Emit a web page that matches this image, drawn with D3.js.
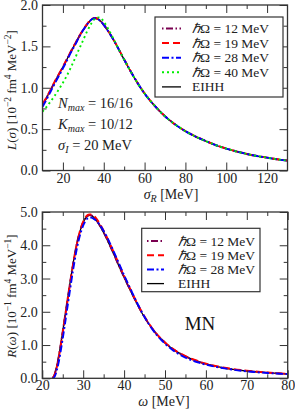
<!DOCTYPE html>
<html><head><meta charset="utf-8">
<script src="https://cdn.jsdelivr.net/npm/d3@7"></script>
<style>
body{margin:0;background:#fff;}
svg{display:block;}
svg text{font-family:"Liberation Serif","Times New Roman",Times,serif;}
</style></head>
<body><svg id="c" width="295" height="410"></svg>
<script>
// ---------- DATA: top panel (Lorentz transform) ----------
const sigmaR = [10,12,14,16,18,20,22,24,26,28,30,32,34,36,38,40,42,45,50,55,60,65,70,75,80,85,90,95,100,105,110,115,120,125,130];
const L_EIHH = [0.79,0.88,0.975,1.07,1.16,1.25,1.345,1.44,1.53,1.62,1.70,1.77,1.825,1.84,1.815,1.76,1.69,1.57,1.34,1.12,0.93,0.78,0.655,0.555,0.475,0.41,0.355,0.305,0.265,0.23,0.20,0.175,0.155,0.135,0.12];
const L_hw12 = [0.79,0.88,0.975,1.07,1.16,1.25,1.345,1.44,1.53,1.62,1.70,1.77,1.825,1.84,1.815,1.76,1.69,1.57,1.34,1.12,0.93,0.78,0.655,0.555,0.475,0.41,0.355,0.305,0.265,0.23,0.20,0.175,0.155,0.135,0.12];
const L_hw19 = [0.80,0.885,0.98,1.075,1.165,1.255,1.35,1.445,1.535,1.625,1.705,1.775,1.83,1.842,1.818,1.762,1.692,1.572,1.342,1.122,0.932,0.782,0.657,0.557,0.477,0.412,0.357,0.307,0.266,0.231,0.201,0.176,0.156,0.136,0.121];
const L_hw28 = [0.77,0.86,0.955,1.05,1.14,1.235,1.33,1.43,1.52,1.615,1.70,1.77,1.825,1.84,1.815,1.76,1.69,1.57,1.34,1.12,0.93,0.78,0.655,0.555,0.475,0.41,0.355,0.305,0.265,0.23,0.20,0.175,0.155,0.135,0.12];
const L_hw40 = [0.71,0.77,0.835,0.905,0.98,1.06,1.15,1.25,1.36,1.47,1.58,1.69,1.78,1.84,1.85,1.80,1.72,1.58,1.34,1.12,0.93,0.78,0.655,0.555,0.475,0.41,0.355,0.305,0.265,0.23,0.20,0.175,0.155,0.135,0.12];

// ---------- DATA: bottom panel (response function) ----------
const omega = [22.5,23,23.5,24,24.5,25,25.5,26,26.5,27,27.5,28,28.5,29,29.5,30,30.5,31,31.5,32,32.5,33,34,35,36,37,38,39,40,42,44,46,48,50,52,55,58,60,65,70,75,80];
const R_EIHH = [0,0.12,0.35,0.65,1.02,1.42,1.83,2.24,2.65,3.05,3.43,3.78,4.08,4.33,4.53,4.69,4.80,4.87,4.90,4.89,4.85,4.79,4.60,4.38,4.13,3.86,3.58,3.30,3.03,2.52,2.04,1.64,1.32,1.07,0.87,0.66,0.51,0.43,0.30,0.22,0.17,0.13];
const R_hw12 = [0,0.11,0.34,0.64,1.01,1.41,1.82,2.23,2.64,3.04,3.42,3.77,4.08,4.33,4.54,4.70,4.81,4.88,4.91,4.90,4.86,4.80,4.61,4.39,4.14,3.87,3.59,3.31,3.04,2.53,2.05,1.65,1.32,1.07,0.87,0.66,0.51,0.43,0.30,0.22,0.17,0.13];
const R_hw19 = [0,0.10,0.31,0.60,0.97,1.37,1.78,2.19,2.60,3.00,3.39,3.75,4.06,4.32,4.54,4.71,4.83,4.90,4.93,4.93,4.90,4.84,4.66,4.44,4.19,3.92,3.64,3.36,3.08,2.56,2.07,1.66,1.33,1.08,0.88,0.67,0.52,0.44,0.31,0.23,0.175,0.135];
const R_hw28 = [0,0.05,0.22,0.48,0.82,1.20,1.60,2.02,2.43,2.84,3.24,3.60,3.93,4.20,4.42,4.60,4.72,4.80,4.83,4.83,4.80,4.76,4.62,4.43,4.20,3.94,3.66,3.38,3.10,2.57,2.07,1.64,1.30,1.04,0.84,0.62,0.48,0.41,0.29,0.21,0.16,0.125];

const topXTicks = [20,40,60,80,100,120];
const topYTicks = [0,0.5,1,1.5,2];
const botXTicks = [20,30,40,50,60,70,80];
const botYTicks = [0,1,2,3,4,5];

// ---------- DRAWING ----------
const svg = d3.select("#c");
const frameCol = "#333";
const FONT = '"Liberation Serif","Times New Roman",Times,serif';

const styles = {
  hw12: {color:"#7a0050", dash:"1.5,2.5,7,2.5", label:"12"},
  hw19: {color:"#ff0000", dash:"7,4", label:"19"},
  hw28: {color:"#0000ff", dash:"7,2.5,2,2.5", label:"28"},
  hw40: {color:"#00ee00", dash:"2,3", label:"40"},
  EIHH: {color:"#000000", dash:null, label:"EIHH"}
};

function panel(o){
  const g = svg.append("g");
  const x = d3.scaleLinear().domain(o.xd).range([o.l, o.r]);
  const y = d3.scaleLinear().domain(o.yd).range([o.b, o.t]);
  const clipId = "clip"+o.id;
  svg.append("clipPath").attr("id",clipId).append("rect")
    .attr("x",o.l).attr("y",o.t).attr("width",o.r-o.l).attr("height",o.b-o.t);

  const line = d3.line().x(d=>x(d[0])).y(d=>y(d[1])).curve(d3.curveMonotoneX);
  const cg = g.append("g").attr("clip-path","url(#"+clipId+")");
  o.series.forEach(s=>{
    const st = styles[s.key];
    cg.append("path")
      .datum(o.xs.map((v,i)=>[v,s.vals[i]]))
      .attr("d",line).attr("fill","none")
      .attr("stroke",st.color)
      .attr("stroke-width", s.key==="EIHH"?1.3:1.9)
      .attr("stroke-dasharray",st.dash);
  });

  const tickLenMaj = 8, tickLenMin = 4;
  const bottom = d3.axisBottom(x).tickValues(o.xMinor).tickSize(-tickLenMin).tickFormat("");
  const bottomMaj = d3.axisBottom(x).tickValues(o.xTicks).tickSize(-tickLenMaj).tickPadding(o.xPad).tickFormat(d3.format("d"));
  const top = d3.axisTop(x).tickValues(o.xMinor).tickSize(-tickLenMin).tickFormat("");
  const topMaj = d3.axisTop(x).tickValues(o.xTicks).tickSize(-tickLenMaj).tickFormat("");
  const left = d3.axisLeft(y).tickValues(o.yMinor).tickSize(-tickLenMin).tickFormat("");
  const leftMaj = d3.axisLeft(y).tickValues(o.yTicks).tickSize(-tickLenMaj).tickPadding(4.5).tickFormat(d3.format(".1f"));
  const right = d3.axisRight(y).tickValues(o.yMinor).tickSize(-tickLenMin).tickFormat("");
  const rightMaj = d3.axisRight(y).tickValues(o.yTicks).tickSize(-tickLenMaj).tickFormat("");
  const ax = [[bottom,0,o.b],[bottomMaj,0,o.b],[top,0,o.t],[topMaj,0,o.t],[left,o.l,0],[leftMaj,o.l,0],[right,o.r,0],[rightMaj,o.r,0]];
  ax.forEach(([a,tx,ty])=>{
    const ag = g.append("g").attr("transform",`translate(${tx},${ty})`).call(a);
    ag.attr("font-family",FONT).attr("font-size",14);
    ag.select(".domain").remove();
    ag.selectAll(".tick line").attr("stroke",frameCol).attr("stroke-width",1);
    ag.selectAll(".tick text").attr("fill","#222");
  });
  g.append("rect").attr("x",o.l).attr("y",o.t).attr("width",o.r-o.l).attr("height",o.b-o.t)
    .attr("fill","none").attr("stroke",frameCol).attr("stroke-width",1.3);

  const lg = g.append("g");
  lg.append("rect").attr("x",o.leg.x).attr("y",o.leg.y).attr("width",o.leg.w).attr("height",o.leg.h)
    .attr("fill","#fff").attr("stroke",frameCol).attr("stroke-width",1.2);
  o.series.slice().sort((a,b)=>o.legOrder.indexOf(a.key)-o.legOrder.indexOf(b.key)).forEach((s,i)=>{
    const st = styles[s.key];
    const yy = o.leg.y0 + i*o.leg.dy;
    lg.append("line").attr("x1",o.leg.sx1).attr("x2",o.leg.sx2).attr("y1",yy).attr("y2",yy)
      .attr("stroke",st.color).attr("stroke-width",s.key==="EIHH"?1.3:2).attr("stroke-dasharray",st.dash);
    const t = lg.append("text").attr("x",o.leg.tx).attr("y",yy+4.5).attr("font-size",13.5).attr("fill","#222");
    if(s.key==="EIHH"){ t.text("EIHH"); }
    else {
      t.append("tspan").attr("font-style","italic").text("ℏ");
      t.append("tspan").text("Ω = "+st.label+" MeV");
    }
  });
  return {x,y,g};
}

panel({
  id:1, l:42.5, r:287.5, t:5, b:170.5, xd:[10,130], yd:[0,2],
  xs:sigmaR,
  series:[{key:"EIHH",vals:L_EIHH},{key:"hw12",vals:L_hw12},{key:"hw19",vals:L_hw19},{key:"hw28",vals:L_hw28},{key:"hw40",vals:L_hw40}],
  legOrder:["hw12","hw19","hw28","hw40","EIHH"],
  xTicks:topXTicks, xMinor:[30,50,70,90,110],
  yTicks:topYTicks, yMinor:[0.25,0.75,1.25,1.75], xPad:3,
  leg:{x:155,y:17,w:128,h:80,y0:28.5,dy:14.6,sx1:162,sx2:181,tx:192}
});

panel({
  id:2, l:42.3, r:287.7, t:212, b:378.3, xd:[20,80], yd:[0,5],
  xs:omega,
  series:[{key:"EIHH",vals:R_EIHH},{key:"hw12",vals:R_hw12},{key:"hw19",vals:R_hw19},{key:"hw28",vals:R_hw28}],
  legOrder:["hw12","hw19","hw28","EIHH"],
  xTicks:botXTicks, xMinor:[25,35,45,55,65,75],
  yTicks:botYTicks, yMinor:[0.5,1.5,2.5,3.5,4.5], xPad:1.5,
  leg:{x:141.7,y:228.3,w:118.3,h:63.4,y0:241,dy:14.2,sx1:147,sx2:164,tx:178}
});

// axis titles
const xt1 = svg.append("text").attr("x",171).attr("y",199).attr("text-anchor","middle").attr("font-size",14).attr("fill","#222");
xt1.append("tspan").attr("font-style","italic").text("σ");
xt1.append("tspan").attr("font-style","italic").attr("font-size",10).attr("dy",3).text("R");
xt1.append("tspan").attr("dy",-3).text(" [MeV]");

const xt2 = svg.append("text").attr("x",164).attr("y",406).attr("text-anchor","middle").attr("font-size",14).attr("fill","#222");
xt2.append("tspan").attr("font-style","italic").text("ω");
xt2.append("tspan").text(" [MeV]");

function ylab(cx, cy, fn, sym, exp){
  const t = svg.append("text").attr("transform",`translate(${cx},${cy}) rotate(-90)`).attr("text-anchor","middle").attr("font-size",13).attr("fill","#222");
  t.append("tspan").attr("font-style","italic").text(fn);
  t.append("tspan").text("(");
  t.append("tspan").attr("font-style","italic").text(sym);
  t.append("tspan").text(") [10");
  t.append("tspan").attr("font-size",9.5).attr("dy",-5).text("−"+exp);
  t.append("tspan").attr("dy",5).text(" fm");
  t.append("tspan").attr("font-size",9.5).attr("dy",-5).text("4");
  t.append("tspan").attr("dy",5).text(" MeV");
  t.append("tspan").attr("font-size",9.5).attr("dy",-5).text("−"+exp);
  t.append("tspan").attr("dy",5).text("]");
}
ylab(16, 90, "L", "σ", "2");
ylab(16, 296, "R", "ω", "1");

// annotations
function ann(xx, yy, main, subt, rest){
  const t = svg.append("text").attr("x",xx).attr("y",yy).attr("font-size",14.5).attr("fill","#222");
  t.append("tspan").attr("font-style","italic").text(main);
  t.append("tspan").attr("font-style","italic").attr("font-size",10).attr("dy",3).text(subt);
  t.append("tspan").attr("dy",-3).text(rest);
}
ann(58, 108, "N", "max", " = 16/16");
ann(58, 129, "K", "max", " = 10/12");
ann(58, 150, "σ", "I", " = 20 MeV");

svg.append("text").attr("x",200).attr("y",330).attr("text-anchor","middle").attr("font-size",19).attr("fill","#111").text("MN");
</script></body></html>
